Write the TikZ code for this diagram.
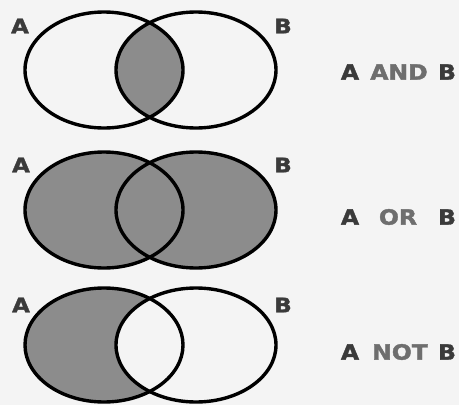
\documentclass[tikz,border=0pt]{standalone}
\usepackage{fontspec}
\setmainfont{DejaVu Sans}
\newfontfamily\heavyfont[FakeBold=1.6]{DejaVu Sans Bold}
\definecolor{bgc}{HTML}{F4F4F4}
\definecolor{shadec}{HTML}{8C8C8C}
\definecolor{darkt}{HTML}{3A3A3A}
\definecolor{midt}{HTML}{6E6E6E}
\tikzset{
  ring/.style={draw=black, line width=3.4pt},
  shadefill/.style={fill=shadec},
  setlabel/.style={font=\heavyfont\fontsize{20}{20}\selectfont, text=darkt, xscale=1.15, inner sep=0pt},
  oplabel/.style={font=\heavyfont\fontsize{21}{21}\selectfont, text=darkt, xscale=1.12, inner sep=0pt},
  opword/.style={oplabel, text=midt}
}
\begin{document}
\begin{tikzpicture}[x=1pt,y=-1pt]
\fill[bgc] (0,0) rectangle (459,405);
\useasboundingbox (0,0) rectangle (459,405);
% ---- A AND B ----
\begin{scope}
  \clip (104,70) ellipse [x radius=79, y radius=58];
  \fill[shadefill] (196,70) ellipse [x radius=80, y radius=58];
\end{scope}
\draw[ring] (104,70) ellipse [x radius=79, y radius=58];
\draw[ring] (196,70) ellipse [x radius=80, y radius=58];
\node[setlabel] (a1) at (20,26) {A};
\node[setlabel] (b1) at (283,26) {B};
\node[oplabel] (t1a) at (350,72) {A};
\node[opword] (t1o) at (399,72) {AND};
\node[oplabel] (t1b) at (447,72) {B};
% ---- A OR B ----
\fill[shadefill] (104,210) ellipse [x radius=79, y radius=58];
\fill[shadefill] (196,210) ellipse [x radius=80, y radius=58];
\draw[ring] (104,210) ellipse [x radius=79, y radius=58];
\draw[ring] (196,210) ellipse [x radius=80, y radius=58];
\node[setlabel] (a2) at (21,165) {A};
\node[setlabel] (b2) at (283,165) {B};
\node[oplabel] (t2a) at (350,217) {A};
\node[opword] (t2o) at (398,217) {OR};
\node[oplabel] (t2b) at (447,217) {B};
% ---- A NOT B ----
\begin{scope}
  \clip (104,345) ellipse [x radius=79, y radius=57];
  \fill[shadefill] (104,345) ellipse [x radius=79, y radius=57];
  \fill[bgc] (196,345) ellipse [x radius=80, y radius=57];
\end{scope}
\draw[ring] (104,345) ellipse [x radius=79, y radius=57];
\draw[ring] (196,345) ellipse [x radius=80, y radius=57];
\node[setlabel] (a3) at (21,305) {A};
\node[setlabel] (b3) at (283,305) {B};
\node[oplabel] (t3a) at (350,352) {A};
\node[opword] (t3o) at (400,352) {NOT};
\node[oplabel] (t3b) at (447,352) {B};
\end{tikzpicture}
\end{document}
